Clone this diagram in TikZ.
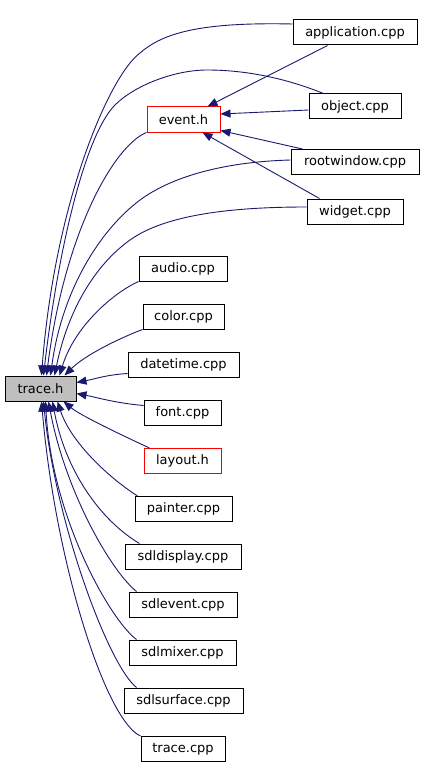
\documentclass[tikz,border=0pt]{standalone}
\usepackage{fontspec}
\setmainfont{DejaVu Sans}
\usetikzlibrary{arrows.meta}
\definecolor{edgeblue}{RGB}{25,25,112}
\definecolor{hgray}{RGB}{191,191,191}
\tikzset{
  fbox/.style={draw=black, line width=1pt, rectangle, inner sep=0pt, minimum height=25pt,
    font=\fontsize{13}{15}\selectfont, text=black},
  redbox/.style={fbox, draw=red},
  grayfill/.style={fbox, fill=hgray},
  dep/.style={draw=edgeblue, line width=0.9pt, -{Triangle[length=10pt,width=8pt]}, fill=none},
}
\begin{document}
\begin{tikzpicture}[x=1pt,y=-1pt]
\useasboundingbox[fill=white] (0,0) rectangle (424,765);
% nodes
\node[fbox, minimum width=124pt] (app) at (355,32.5) {application.cpp};
\node[fbox, minimum width=92pt] (obj) at (355,106.5) {object.cpp};
\node[redbox, minimum width=73pt] (ev) at (183.5,119.5) {event.h};
\node[fbox, minimum width=128pt] (rw) at (355,162) {rootwindow.cpp};
\node[fbox, minimum width=96pt] (wid) at (355,211.5) {widget.cpp};
\node[fbox, minimum width=88pt] (aud) at (183,268.5) {audio.cpp};
\node[fbox, minimum width=81pt] (col) at (183.5,316.5) {color.cpp};
\node[fbox, minimum width=111pt] (dt) at (183.5,364.5) {datetime.cpp};
\node[grayfill, minimum width=71pt] (tr) at (40.5,388.5) {trace.h};
\node[fbox, minimum width=77pt] (fnt) at (182.5,412.5) {font.cpp};
\node[redbox, minimum width=77pt] (lay) at (182.5,461) {layout.h};
\node[fbox, minimum width=97pt] (pnt) at (183.5,509) {painter.cpp};
\node[fbox, minimum width=116pt] (sdd) at (183,556.5) {sdldisplay.cpp};
\node[fbox, minimum width=108pt] (sde) at (183,604.5) {sdlevent.cpp};
\node[fbox, minimum width=107pt] (sdm) at (182.5,652.5) {sdlmixer.cpp};
\node[fbox, minimum width=119pt] (sds) at (183.5,700.5) {sdlsurface.cpp};
\node[fbox, minimum width=84pt] (trc) at (183,749) {trace.cpp};
% edges to event.h
\draw[dep] ([xshift=35pt]app.south west) -- ([xshift=61pt]ev.north west);
\draw[dep] ([yshift=-3.5pt]obj.west) -- ([yshift=5.5pt]ev.east);
\draw[dep] ([xshift=12pt]rw.north west) -- ([yshift=2pt]ev.south east);
\draw[dep] ([xshift=13pt]wid.north west) -- ([xshift=56pt]ev.south west);
% edges to trace.h (top)
\draw[dep] ([yshift=8.5pt]app.west) .. controls (200,22) and (163,33) .. (140,53)
  .. controls (110,75) and (55,200) .. ([xshift=37pt]tr.north west);
\draw[dep] ([xshift=15pt]obj.north west) .. controls (290,80) and (250,70) .. (207,70)
  .. controls (175,70) and (135,85) .. (115,105)
  .. controls (85,135) and (58,250) .. ([xshift=39pt]tr.north west);
\draw[dep] (ev.south west) .. controls (115,145) and (65,230) .. ([xshift=42pt]tr.north west);
\draw[dep] ([yshift=2pt]rw.west) .. controls (220,162) and (170,178) .. (140,200)
  .. controls (100,230) and (62,290) .. ([xshift=46pt]tr.north west);
\draw[dep] ([yshift=4.5pt]wid.west) .. controls (230,207) and (165,215) .. (130,240)
  .. controls (95,265) and (68,310) .. ([xshift=50pt]tr.north west);
\draw[dep] (aud.south west) .. controls (115,292) and (75,325) .. ([xshift=55pt]tr.north west);
\draw[dep] (col.south west) .. controls (120,338) and (85,355) .. ([xshift=60pt]tr.north west);
% right side
\draw[dep] ([yshift=-9pt]dt.west) .. controls (105,375) and (95,379) .. ([yshift=6pt]tr.east);
\draw[dep] ([yshift=7pt]fnt.west) .. controls (115,403) and (95,397) .. ([yshift=-5pt]tr.east);
% bottom
\draw[dep] ([xshift=6pt]lay.north west) .. controls (115,432) and (80,415) .. ([xshift=59pt]tr.south west);
\draw[dep] ([xshift=3pt]pnt.north west) .. controls (105,475) and (70,440) .. ([xshift=53pt]tr.south west);
\draw[dep] ([xshift=15pt]sdd.north west) .. controls (100,520) and (65,470) .. ([xshift=48pt]tr.south west);
\draw[dep] ([xshift=8pt]sde.north west) .. controls (110,570) and (65,490) .. ([xshift=44pt]tr.south west);
\draw[dep] ([xshift=8pt]sdm.north west) .. controls (112,622) and (52,520) .. ([xshift=41pt]tr.south west);
\draw[dep] ([xshift=13pt]sds.north west) .. controls (108,665) and (55,520) .. ([xshift=39pt]tr.south west);
\draw[dep] (trc.north west) .. controls (105,720) and (55,560) .. ([xshift=37pt]tr.south west);
\end{tikzpicture}
\end{document}
